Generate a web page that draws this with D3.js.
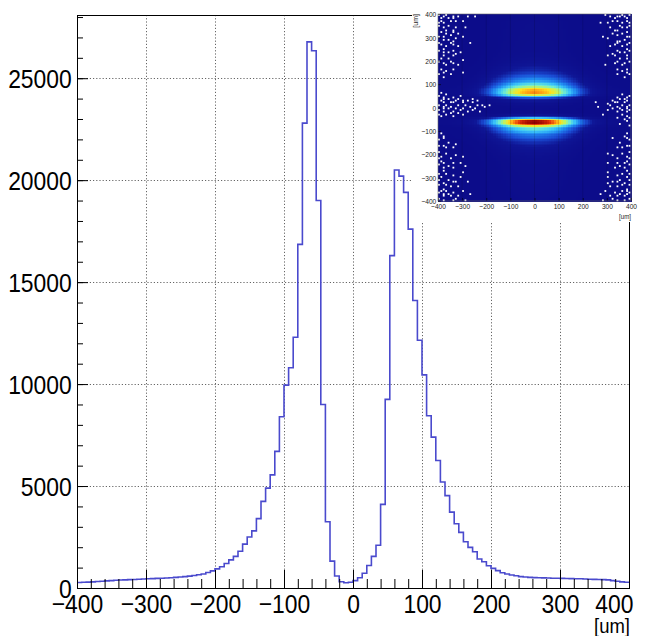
<!DOCTYPE html>
<html><head><meta charset="utf-8">
<script src="https://cdn.jsdelivr.net/npm/d3@7"></script>
<style>
body{margin:0;background:#fff}
svg{display:block}
text{font-family:"Liberation Sans",Arial,Helvetica,sans-serif}
</style>
</head><body>
<svg id="c" width="648" height="636"></svg>
<script>
// ---------------- data ----------------
const histRange = [-400, 400];
const counts = [
  270, 280, 290, 300, 320, 330, 350, 360, 380, 390,
  400, 410, 420, 430, 440, 450, 460, 470, 480, 490,
  500, 520, 540, 560, 580, 610, 650, 690, 760, 840,
  940, 1040, 1200, 1380, 1550, 1800, 2150, 2500, 2800, 3400,
  4250, 4900, 5550, 6700, 8400, 9950, 10800, 12300, 16850, 22800,
  26780, 26350, 19000, 9000, 3250, 1320, 590, 310, 260, 280,
  360, 500, 720, 1100, 1550, 2100, 4100, 9250, 16300, 20500,
  20200, 19400, 17600, 14100, 12150, 10450, 8450, 7400, 6250, 5200,
  4530, 3720, 3150, 2730, 2270, 1990, 1780, 1420, 1290, 1090,
  960, 850, 750, 690, 640, 600, 560, 540, 520, 510,
  500, 495, 490, 480, 475, 470, 465, 460, 455, 450,
  445, 430, 425, 420, 410, 400, 360, 330, 300, 280
];
const xMajorTicks = [-400, -300, -200, -100, 0, 100, 200, 300, 400];
const xTickLabels = ["\u2212400", "\u2212300", "\u2212200", "\u2212100", "0", "100", "200", "300", "400"];
const yMajorTicks = [0, 5000, 10000, 15000, 20000, 25000];
const yTickLabels = ["0", "5000", "10000", "15000", "20000", "25000"];
const yMax = 28100;
const xTitle = "[um]";

// inset 2D map: x profile (10 um columns) times the y histogram above
const insetXProfile = [
  0.01, 0.011, 0.012, 0.012, 0.013, 0.014, 0.015, 0.017, 0.019, 0.021,
  0.024, 0.028, 0.033, 0.041, 0.05, 0.062, 0.08, 0.1, 0.125, 0.155,
  0.19, 0.23, 0.275, 0.325, 0.375, 0.43, 0.49, 0.55, 0.61, 0.67,
  0.725, 0.775, 0.82, 0.86, 0.895, 0.925, 0.95, 0.97, 0.985, 0.998,
  0.998, 0.985, 0.97, 0.95, 0.925, 0.895, 0.86, 0.82, 0.775, 0.725,
  0.67, 0.61, 0.55, 0.49, 0.43, 0.375, 0.325, 0.275, 0.23, 0.19,
  0.155, 0.125, 0.1, 0.08, 0.062, 0.05, 0.041, 0.033, 0.028, 0.024,
  0.021, 0.019, 0.017, 0.015, 0.014, 0.013, 0.012, 0.012, 0.011, 0.01
];
const insetTicks = [-400, -300, -200, -100, 0, 100, 200, 300, 400];
const insetTickLabels = ["\u2212400", "\u2212300", "\u2212200", "\u2212100", "0", "100", "200", "300", "400"];
const heatStops = [0, 0.06, 0.14, 0.23, 0.33, 0.44, 0.55, 0.65, 0.75, 0.86, 1];
const heatColors = ["#0c0c8a", "#0f1696", "#1a4cd4", "#2089f0", "#3cc6f8", "#78efc8", "#c6f25a", "#ffe21e", "#ff9812", "#e23008", "#940000"];
// empty (zero-count) cells of the 2D map, [x um, y um]
const emptyCells = [
  [-396,396],[-380,388],[-364,396],[-340,392],[-316,388],[-388,372],[-372,364],[-348,372],[-332,380],[-300,372],
  [-396,348],[-380,340],[-356,352],[-340,332],[-324,344],[-388,320],[-364,316],[-348,308],[-316,316],[-396,300],
  [-372,292],[-340,284],[-324,296],[-292,300],[-388,268],[-364,260],[-348,276],[-316,260],[-396,244],[-372,236],
  [-340,244],[-308,236],[-380,220],[-356,212],[-332,220],[-396,196],[-372,188],[-348,196],[-316,180],[-388,164],
  [-364,156],[-340,164],[-396,140],[-372,132],[-276,388],[-244,392],[-284,340],[-268,276],[-300,204],[-292,148],
  [-388,384],[-356,380],[-324,368],[-396,360],[-364,332],[-332,324],[-380,304],[-356,288],[-396,276],[-332,268],
  [-380,252],[-356,236],[-324,232],[-388,208],[-364,180],[-332,188],[-380,148],[-348,140],
  [-396,52],[-380,44],[-364,56],[-388,28],[-372,20],[-356,36],[-340,44],[-324,28],[-396,12],[-380,4],
  [-364,12],[-348,4],[-332,20],[-316,8],[-300,28],[-284,12],[-268,4],[-252,20],[-236,8],[-220,12],
  [-204,4],[-188,8],[-396,-12],[-380,-20],[-356,-4],[-340,-16],[-324,-4],[-308,-12],[-292,-4],[-276,-20],
  [-260,-8],[-244,-4],[-228,-16],[-388,-36],[-364,-28],[-332,-36],[-300,-28],[-260,36],[-308,52],[-236,28],
  [-388,60],[-372,36],[-348,24],[-316,36],[-292,20],[-276,28],[-396,-28],[-372,-4],[-348,-24],[-316,-24],
  [-388,-108],[-372,-124],[-396,-140],[-356,-148],[-380,-164],[-340,-172],[-396,-188],[-364,-196],[-324,-204],[-388,-212],
  [-348,-220],[-372,-236],[-308,-236],[-396,-244],[-356,-252],[-332,-260],[-380,-268],[-396,-284],[-364,-284],[-340,-292],
  [-300,-276],[-388,-300],[-356,-308],[-324,-316],[-372,-324],[-396,-332],[-348,-340],[-316,-340],[-380,-348],[-364,-356],
  [-332,-364],[-292,-356],[-396,-364],[-380,-372],[-348,-380],[-316,-380],[-396,-388],[-372,-396],[-340,-396],[-284,-396],
  [-276,-316],[-300,-212],[-284,-252],[-324,-156],[-268,-372],
  [-380,-132],[-396,-164],[-364,-172],[-388,-228],[-340,-236],[-372,-260],[-396,-308],[-340,-316],[-364,-332],[-388,-356],
  [-356,-372],[-324,-388],[-372,-380],[-308,-300],[-396,-220],
  [392,396],[376,388],[360,396],[340,392],[316,388],[292,396],[388,372],[368,364],[348,372],[332,380],
  [300,364],[396,348],[380,340],[356,352],[340,332],[316,344],[388,320],[364,316],[344,308],[320,316],
  [396,300],[372,292],[340,284],[308,296],[388,268],[364,260],[348,276],[316,260],[396,244],[372,236],
  [340,244],[380,220],[356,212],[332,220],[396,196],[372,188],[348,196],[388,164],[364,156],[340,164],
  [396,140],[372,132],[276,364],[284,300],[300,220],[292,180],
  [384,380],[352,388],[324,372],[396,364],[364,340],[332,332],[380,300],[356,284],[396,276],[332,268],
  [380,252],[356,236],[324,232],[388,208],[364,180],[332,188],[380,148],[348,140],
  [396,52],[380,44],[364,56],[340,40],[388,28],[372,20],[356,36],[324,28],[396,12],[380,4],
  [364,12],[348,4],[332,20],[316,8],[300,16],[396,-12],[380,-20],[356,-4],[340,-16],[324,-4],
  [308,-12],[388,-36],[364,-28],[340,-44],[380,-60],[356,-68],[396,-76],[252,20],[260,0],[284,-28],
  [372,36],[348,24],[388,-4],[364,-12],[396,-44],[372,-52],
  [388,-108],[372,-124],[396,-140],[356,-148],[380,-164],[340,-172],[396,-188],[364,-196],[324,-204],[388,-212],
  [348,-220],[372,-236],[308,-236],[396,-244],[356,-252],[332,-260],[380,-268],[396,-284],[364,-284],[340,-292],
  [300,-276],[388,-300],[356,-308],[324,-316],[372,-324],[396,-332],[348,-340],[316,-340],[380,-348],[364,-356],
  [332,-364],[292,-356],[396,-364],[380,-372],[348,-380],[316,-380],[396,-388],[372,-396],[340,-396],[284,-396],
  [300,-324],[308,-196],[324,-132],[276,-372],
  [380,-132],[396,-164],[364,-172],[388,-228],[340,-236],[372,-260],[396,-308],[340,-316],[364,-332],[388,-356],
  [356,-372],[324,-388],[372,-380],[308,-300],[396,-220]
];

// ---------------- main chart ----------------
const svg = d3.select("#c");
const M = {l: 77, r: 629, t: 15, b: 588};
const x = d3.scaleLinear().domain(histRange).range([M.l, M.r]);
const y = d3.scaleLinear().domain([0, yMax]).range([M.b, M.t]);
const nb = counts.length;
const bw = (histRange[1] - histRange[0]) / nb;
const SX = 0.88;

// grid
const grid = svg.append("g").attr("stroke", "#666").attr("stroke-width", 1)
  .attr("stroke-dasharray", "1.2,2").attr("fill", "none");
grid.selectAll("line.gx").data(xMajorTicks.slice(1, -1)).join("line")
  .attr("x1", d => Math.round(x(d)) + 0.5).attr("x2", d => Math.round(x(d)) + 0.5)
  .attr("y1", M.t).attr("y2", M.b);
grid.selectAll("line.gy").data(yMajorTicks.slice(1)).join("line")
  .attr("y1", d => Math.round(y(d)) + 0.5).attr("y2", d => Math.round(y(d)) + 0.5)
  .attr("x1", M.l).attr("x2", M.r);

// histogram (step line)
const pts = counts.map((v, i) => [histRange[0] + i * bw, v]);
pts.push([histRange[1], counts[nb - 1]]);
const line = d3.line().x(d => x(d[0])).y(d => y(d[1])).curve(d3.curveStepAfter);
svg.append("path").datum(pts).attr("d", line)
  .attr("fill", "none").attr("stroke", "#4a4acd").attr("stroke-width", 1.6);

// axes
const yMinorTicks = d3.range(0, 28001, 1000);
const xMinorTicks = d3.range(-400, 401, 20);

const gyMin = svg.append("g").attr("transform", `translate(${M.l},0)`)
  .call(d3.axisLeft(y).tickValues(yMinorTicks).tickSize(-6).tickFormat(""));
const gy = svg.append("g").attr("transform", `translate(${M.l},0)`)
  .call(d3.axisLeft(y).tickValues(yMajorTicks).tickSize(-11).tickPadding(6)
    .tickFormat((d, i) => yTickLabels[i]));
gy.selectAll("text").attr("font-size", 26).attr("fill", "#000")
  .attr("dy", "0.36em").attr("transform", `scale(${SX},1)`);

const gxMin = svg.append("g").attr("transform", `translate(0,${M.b})`)
  .call(d3.axisBottom(x).tickValues(xMinorTicks).tickSize(-9).tickFormat(""));
const gx = svg.append("g").attr("transform", `translate(0,${M.b})`)
  .call(d3.axisBottom(x).tickValues(xMajorTicks).tickSize(-18).tickPadding(7)
    .tickFormat((d, i) => xTickLabels[i]));
gx.selectAll("text").attr("font-size", 26).attr("fill", "#000")
  .attr("transform", `scale(${SX},1)`);
// last label kept inside the canvas (right-aligned to the frame)
gx.selectAll(".tick").filter(d => d === histRange[1]).select("text")
  .attr("text-anchor", "end").attr("x", 4 / SX);

[gyMin, gy, gxMin, gx].forEach(g => {
  g.select(".domain").remove();
  g.selectAll(".tick line").attr("stroke", "#000").attr("stroke-width", 1);
});

// frame
svg.append("rect").attr("x", M.l + 0.5).attr("y", M.t + 0.5)
  .attr("width", M.r - M.l).attr("height", M.b - M.t)
  .attr("fill", "none").attr("stroke", "#000").attr("stroke-width", 1);

// x title
svg.append("text").attr("transform", `translate(630,633) scale(${SX},1)`)
  .attr("text-anchor", "end").attr("font-size", 21).text(xTitle);

// ---------------- inset ----------------
svg.append("rect").attr("x", 412).attr("y", 0).attr("width", 236).attr("height", 222).attr("fill", "#fff");
const I = {l: 438, r: 631, t: 14, b: 201};
const xi = d3.scaleLinear().domain([-400, 400]).range([I.l, I.r]);
const yi = d3.scaleLinear().domain([-400, 400]).range([I.b, I.t]);
const colW = 800 / insetXProfile.length;
const zMax = d3.max(counts);
const heat = d3.scaleLinear().domain(heatStops).range(heatColors).clamp(true);

const cells = [];
counts.forEach((cv, r) => {
  insetXProfile.forEach((px, c) => {
    cells.push({x0: -400 + c * colW, y0: -400 + r * bw, v: cv * px});
  });
});
const gHeat = svg.append("g").attr("shape-rendering", "crispEdges");
gHeat.selectAll("rect").data(cells).join("rect")
  .attr("x", d => xi(d.x0))
  .attr("y", d => yi(d.y0 + bw))
  .attr("width", xi(colW) - xi(0) + 0.5)
  .attr("height", yi(0) - yi(bw) + 0.5)
  .attr("fill", d => heat(d.v / zMax));

// empty cells
svg.append("g").selectAll("rect").data(emptyCells).join("rect")
  .attr("x", d => xi(-400 + Math.floor((d[0] + 400) / colW) * colW))
  .attr("y", d => yi(-400 + (Math.floor((d[1] + 400) / bw) + 1) * bw))
  .attr("width", 1.8).attr("height", 1.8).attr("fill", "#fff");

// inset grid (faint vertical)
svg.append("g").selectAll("line").data(insetTicks.slice(1, -1)).join("line")
  .attr("x1", d => xi(d)).attr("x2", d => xi(d)).attr("y1", I.t).attr("y2", I.b)
  .attr("stroke", "#000").attr("stroke-opacity", 0.2).attr("stroke-width", 0.6);

// inset axes
const giy = svg.append("g").attr("transform", `translate(${I.l},0)`)
  .call(d3.axisLeft(yi).tickValues(insetTicks).tickSize(-3).tickPadding(2)
    .tickFormat((d, i) => insetTickLabels[i]));
const gix = svg.append("g").attr("transform", `translate(0,${I.b})`)
  .call(d3.axisBottom(xi).tickValues(insetTicks).tickSize(-3).tickPadding(3)
    .tickFormat((d, i) => insetTickLabels[i]));
[giy, gix].forEach(g => {
  g.select(".domain").remove();
  g.selectAll(".tick line").attr("stroke", "#000").attr("stroke-width", 0.6);
  g.selectAll("text").attr("font-size", 7.5).attr("fill", "#222").attr("transform", `scale(${SX},1)`);
});
giy.selectAll("text").attr("dy", "0.35em");
svg.append("rect").attr("x", I.l).attr("y", I.t).attr("width", I.r - I.l).attr("height", I.b - I.t)
  .attr("fill", "none").attr("stroke", "#666").attr("stroke-width", 0.6);
svg.append("text").attr("transform", `translate(631,219) scale(${SX},1)`)
  .attr("text-anchor", "end").attr("font-size", 7).attr("fill", "#222").text(xTitle);
svg.append("text").attr("transform", `translate(418,14) rotate(-90)`)
  .attr("text-anchor", "end").attr("font-size", 7).attr("fill", "#222").text(xTitle);
</script>
</body></html>
